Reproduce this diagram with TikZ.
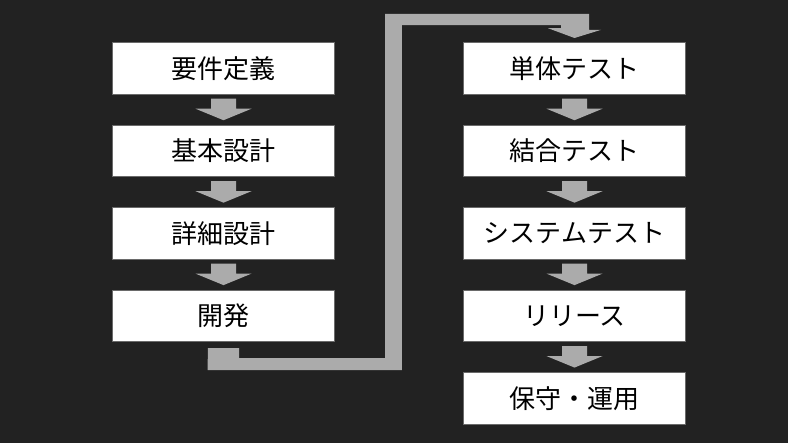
\documentclass[tikz,border=0pt]{standalone}
\usepackage{fontspec}
\setmainfont{Noto Sans CJK JP}
\usetikzlibrary{positioning,calc}

\definecolor{bgdark}{HTML}{222222}
\definecolor{flowgray}{HTML}{ABABAB}
\definecolor{boxline}{HTML}{6A6A6A}

\begin{document}
\begin{tikzpicture}[x=1pt,y=-1pt,node distance=29.85pt,
  phase/.style={rectangle,fill=white,draw=boxline,line width=0.8pt,
  minimum width=222pt,minimum height=51.8pt,inner sep=0pt,
  font=\fontsize{26}{30}\selectfont},
  downarrow/.pic={\fill[flowgray] (-12.5,-11) -- (12.5,-11) -- (12.5,-1)
    -- (28,-1) -- (0,10.5) -- (-28,-1) -- (-12.5,-1) -- cycle;}]

  \fill[bgdark] (0,0) rectangle (788,443);

  % left column
  \node[phase] (req) at (223.5,68.5) {要件定義};
  \node[phase] (basic) [below=of req] {基本設計};
  \node[phase] (detail) [below=of basic] {詳細設計};
  \node[phase] (dev) [below=of detail] {開発};

  % right column
  \node[phase] (unit) at (574.5,68.5) {単体テスト};
  \node[phase] (integ) [below=of unit] {結合テスト};
  \node[phase] (system) [below=of integ] {システムテスト};
  \node[phase] (release) [below=of system] {リリース};
  \node[phase] (maint) [below=of release] {保守・運用};

  \foreach \a/\b in {req/basic,basic/detail,detail/dev,
    unit/integ,integ/system,system/release,release/maint}
    \pic at ($(\a.south)!.5!(\b.north)$) {downarrow};

  % bent arrow from dev up and over to unit
  \fill[flowgray] ($(dev.south)+(-15.5,6)$) -- ++(31,0) -- ++(0,10)
    -- ++(146,0) -- ++(0,-344.3) -- ++(204,0) -- ++(0,16)
    -- ++(12,0) -- ($(unit.north)+(0,-4.2)$) -- ++(-26.5,-9.8)
    -- ++(13.2,0) -- ++(0,-3) -- ++(-159.4,0) -- ++(0,345)
    -- ++(-194.3,0) -- cycle;
\end{tikzpicture}
\end{document}
